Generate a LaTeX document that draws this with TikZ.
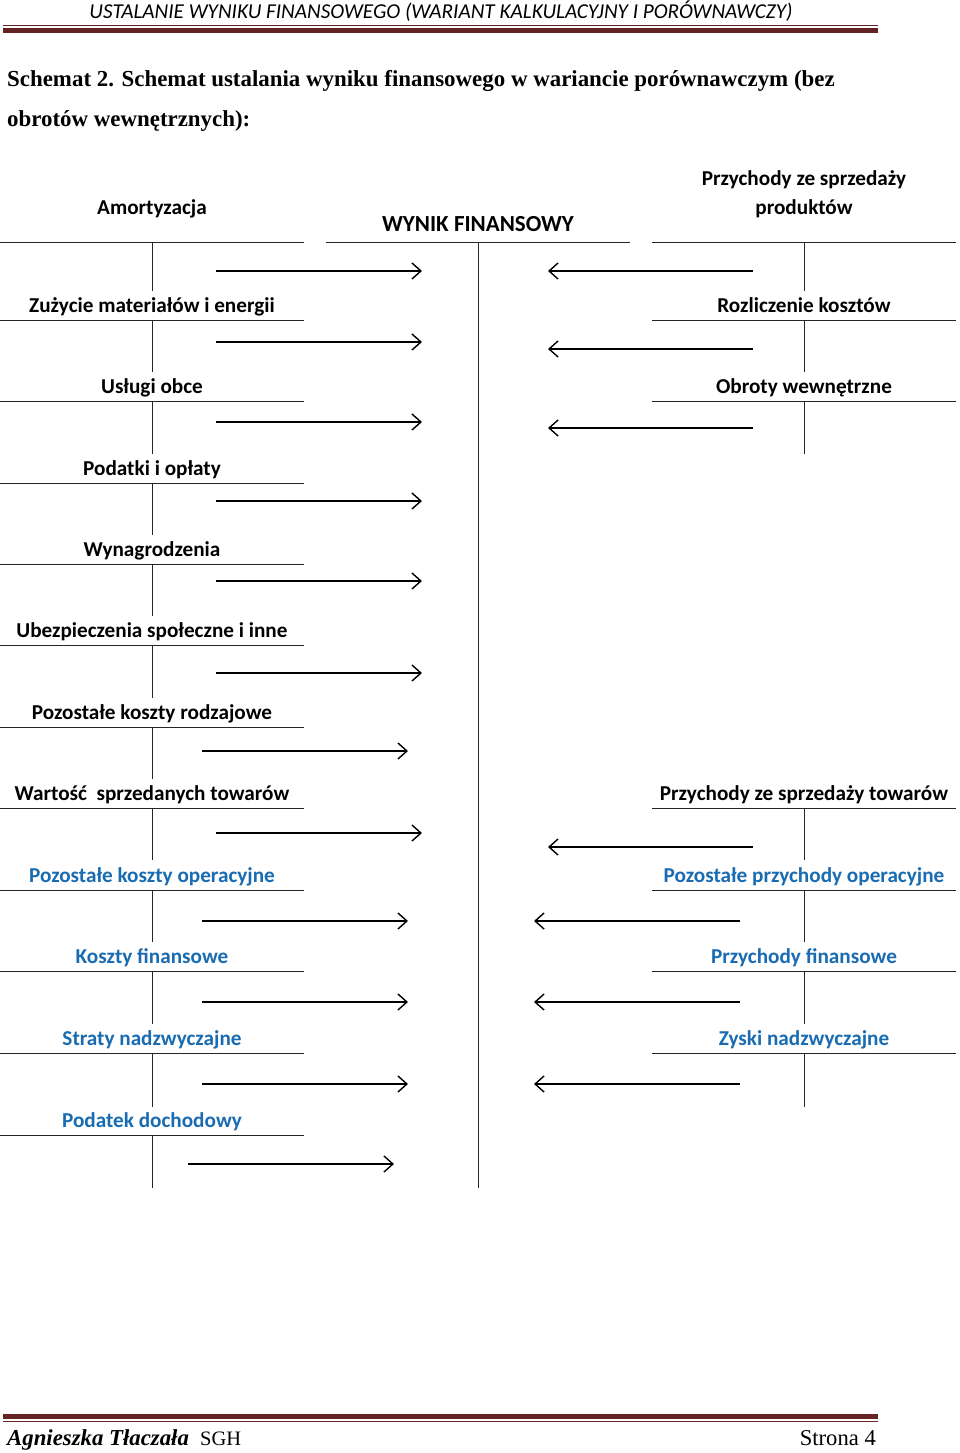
\documentclass[tikz,border=0pt]{standalone}
\usepackage{fontspec}
\setmainfont{Liberation Serif}
\newfontfamily\calib{Carlito}
\usetikzlibrary{arrows.meta}
\definecolor{hdrred}{RGB}{99,36,35}
\definecolor{lblue}{RGB}{25,108,178}
\tikzset{
  acc/.style={draw=black!85, line width=0.9pt},
  lbl/.style={anchor=base, inner sep=0pt, font=\calib\bfseries\fontsize{21.2}{25}\selectfont},
  bl/.style={lbl, text=lblue},
  flow/.style={line width=1.4pt, -{Straight Barb[length=9pt,width=16pt,line width=1.4pt]}}
}
\begin{document}
\begin{tikzpicture}[x=1pt,y=-1pt]
\useasboundingbox[fill=white] (0,0) rectangle (960,1453);
% header
\node[anchor=base, inner sep=0pt, font=\calib\itshape\fontsize{21.2}{25}\selectfont] (hdr) at (441,19) {USTALANIE WYNIKU FINANSOWEGO (WARIANT KALKULACYJNY I PORÓWNAWCZY)};
\draw[hdrred, line width=1pt] (3,25.5) -- (878,25.5);
\draw[hdrred, line width=5pt] (3,30.5) -- (878,30.5);
% title
\node[anchor=base west, inner sep=0pt, font=\bfseries\fontsize{22.9}{27}\selectfont] (t1) at (7,87) {Schemat 2. Schemat ustalania wyniku finansowego w wariancie porównawczym (bez};
\node[anchor=base west, inner sep=0pt, font=\bfseries\fontsize{22.9}{27}\selectfont] (t2) at (7,127) {obrotów wewnętrznych):};
% footer
\draw[hdrred, line width=5pt] (3,1416) -- (878,1416);
\draw[hdrred, line width=1pt] (3,1421) -- (878,1421);
\node[anchor=base west, inner sep=0pt, font=\bfseries\itshape\fontsize{22.8}{27}\selectfont] (fa) at (7,1445) {Agnieszka Tłaczała};
\node[anchor=base west, inner sep=0pt, font=\fontsize{20.5}{27}\selectfont] (fb) at (200,1445) {SGH};
\node[anchor=base east, inner sep=0pt, font=\fontsize{22.6}{27}\selectfont] (fc) at (876,1445) {Strona 4};
% left accounts
\foreach \ly/\vy/\txt/\st [count=\i] in {
  242/291/Amortyzacja/lbl,
  320/372/Zużycie materiałów i energii/lbl,
  401/454/Usługi obce/lbl,
  483/535/Podatki i opłaty/lbl,
  564/616/Wynagrodzenia/lbl,
  645/698/Ubezpieczenia społeczne i inne/lbl,
  727/779/Pozostałe koszty rodzajowe/lbl,
  808/860/Wartość\ \ sprzedanych towarów/lbl,
  890/942/Pozostałe koszty operacyjne/bl,
  971/1024/Koszty finansowe/bl,
  1053/1107/Straty nadzwyczajne/bl,
  1135/1188/Podatek dochodowy/bl}{
  \draw[acc] (0,\ly) coordinate (L\i a) -- (304,\ly) coordinate (L\i b);
  \draw[acc] (152,\ly) coordinate (L\i t) -- (152,\vy) coordinate (L\i v);
  \ifnum\i>1
    \node[\st] (Ln\i) at (152,\ly-8) {\txt};
  \fi
}
\node[lbl] (Ln1) at (152,214) {Amortyzacja};
% middle account
\draw[acc] (326,242) coordinate (Ma) -- (630,242) coordinate (Mb);
\draw[acc] (478,242) coordinate (Mt) -- (478,1188) coordinate (Mv);
\node[lbl, font=\calib\bfseries\fontsize{23}{27}\selectfont] (Mn) at (478,231) {WYNIK FINANSOWY};
% right accounts
\foreach \ly/\vy/\txt/\st [count=\i] in {
  242/291/produktów/lbl,
  320/372/Rozliczenie kosztów/lbl,
  401/454/Obroty wewnętrzne/lbl,
  808/860/Przychody ze sprzedaży towarów/lbl,
  890/942/Pozostałe przychody operacyjne/bl,
  971/1024/Przychody finansowe/bl,
  1053/1107/Zyski nadzwyczajne/bl}{
  \draw[acc] (652,\ly) coordinate (R\i a) -- (956,\ly) coordinate (R\i b);
  \draw[acc] (804,\ly) coordinate (R\i t) -- (804,\vy) coordinate (R\i v);
  \ifnum\i>1
    \node[\st] (Rn\i) at (804,\ly-8) {\txt};
  \fi
}
\node[lbl] (Rn1) at (804,214) {produktów};
\node[lbl] (Rn0) at (804,185) {Przychody ze sprzedaży};
% left arrows (to the right)
\foreach \y/\xa/\xb [count=\i] in {271/216/422, 342/216/422, 422/216/422, 501/216/422, 581/216/422,
  673/216/422, 751/202/408, 833/216/422, 921/202/408, 1002/202/408, 1084/202/408, 1164/188/394}{
  \coordinate (As\i) at (\xa,\y);
  \coordinate (Ae\i) at (\xb,\y);
  \draw[flow] (As\i) -- (Ae\i);
}
% right arrows (to the left)
\foreach \y/\xa/\xb [count=\i] in {271/753/548, 349/753/548, 428/753/548, 847/753/548,
  921/740/534, 1002/740/534, 1084/740/534}{
  \coordinate (Bs\i) at (\xa,\y);
  \coordinate (Be\i) at (\xb,\y);
  \draw[flow] (Bs\i) -- (Be\i);
}
\end{tikzpicture}
\end{document}
